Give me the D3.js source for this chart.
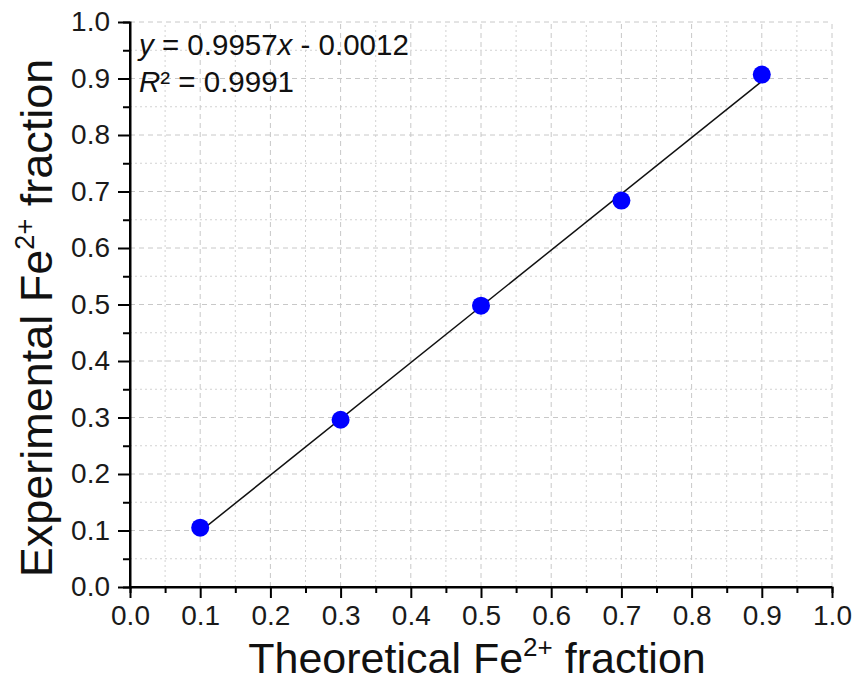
<!DOCTYPE html>
<html><head><meta charset="utf-8">
<script src="https://cdn.jsdelivr.net/npm/d3@7"></script>
<style>body{margin:0;background:#fff;} text{font-family:"Liberation Sans",Arial,sans-serif;}</style>
</head><body>
<svg id="c" width="857" height="684"></svg>
<script>
const theoretical = [0.1, 0.3, 0.5, 0.7, 0.9];
const experimental = [0.105, 0.296, 0.498, 0.684, 0.907];
const fitSlope = 0.9957;
const fitIntercept = -0.0012;
const fitRange = [0.1, 0.9];
const tickValues = [0, 0.1, 0.2, 0.3, 0.4, 0.5, 0.6, 0.7, 0.8, 0.9, 1.0];
const minorValues = [0.05, 0.15, 0.25, 0.35, 0.45, 0.55, 0.65, 0.75, 0.85, 0.95];

const svg = d3.select("#c");
const m = {l:130, r:25, t:22, b:97};
const W = 857, H = 684;
const x = d3.scaleLinear().domain([0,1]).range([m.l, W - m.r]);
const y = d3.scaleLinear().domain([0,1]).range([H - m.b, m.t]);

const g = svg.append("g");
// minor grid (dotted)
minorValues.forEach(v=>{
  g.append("line").attr("x1",x(v)).attr("x2",x(v)).attr("y1",y(0)).attr("y2",y(1))
   .attr("stroke","#d2d2d2").attr("stroke-width",1).attr("stroke-dasharray","2,3");
  g.append("line").attr("x1",x(0)).attr("x2",x(1)).attr("y1",y(v)).attr("y2",y(v))
   .attr("stroke","#d2d2d2").attr("stroke-width",1).attr("stroke-dasharray","2,3");
});
// major grid (dashed)
tickValues.slice(1).forEach(v=>{
  g.append("line").attr("x1",x(v)).attr("x2",x(v)).attr("y1",y(0)).attr("y2",y(1))
   .attr("stroke","#c8c8c8").attr("stroke-width",1).attr("stroke-dasharray","5,4");
  g.append("line").attr("x1",x(0)).attr("x2",x(1)).attr("y1",y(v)).attr("y2",y(v))
   .attr("stroke","#c8c8c8").attr("stroke-width",1).attr("stroke-dasharray","5,4");
});

// axes
const fmt = d3.format(".1f");
const xAxis = d3.axisBottom(x).tickValues(tickValues).tickFormat(fmt).tickSize(11).tickPadding(7);
const yAxis = d3.axisLeft(y).tickValues(tickValues).tickFormat(fmt).tickSize(12).tickPadding(8);
const xMinor = d3.axisBottom(x).tickValues(minorValues).tickFormat("").tickSize(6);
const yMinor = d3.axisLeft(y).tickValues(minorValues).tickFormat("").tickSize(7);

function styleAxis(sel){
  sel.attr("font-size",28).attr("font-family","'Liberation Sans',Arial,sans-serif");
  sel.select(".domain").attr("stroke","#000").attr("stroke-width",2);
  sel.selectAll(".tick line").attr("stroke","#000").attr("stroke-width",2);
  sel.selectAll("text").attr("font-size",28).attr("fill","#1a1a1a");
}
svg.append("g").attr("transform",`translate(0,${y(0)})`).call(xMinor).call(styleAxis);
svg.append("g").attr("transform",`translate(${x(0)},0)`).call(yMinor).call(styleAxis);
const gx = svg.append("g").attr("transform",`translate(0,${y(0)})`).call(xAxis).call(styleAxis);
gx.select(".domain").attr("d",`M${x(0)},0H${x(1)}`);
const gy = svg.append("g").attr("transform",`translate(${x(0)},0)`).call(yAxis).call(styleAxis);
gy.select(".domain").attr("d",`M0,${y(0)}V${y(1)}`);

// fit line
svg.append("line")
  .attr("x1",x(fitRange[0])).attr("y1",y(fitSlope*fitRange[0]+fitIntercept))
  .attr("x2",x(fitRange[1])).attr("y2",y(fitSlope*fitRange[1]+fitIntercept))
  .attr("stroke","#111").attr("stroke-width",1.5);

// points
svg.selectAll("circle.pt").data(theoretical).enter().append("circle")
  .attr("cx",d=>x(d)).attr("cy",(d,i)=>y(experimental[i])).attr("r",9)
  .attr("fill","#0000ff");

// equation
const eq = svg.append("text").attr("x",139).attr("y",55).attr("font-size",29.5).attr("fill","#111");
eq.append("tspan").attr("font-style","italic").text("y");
eq.append("tspan").text(" = 0.9957");
eq.append("tspan").attr("font-style","italic").text("x");
eq.append("tspan").text(" - 0.0012");
const r2 = svg.append("text").attr("x",139).attr("y",92).attr("font-size",29.5).attr("fill","#111");
r2.append("tspan").attr("font-style","italic").text("R");
r2.append("tspan").text("² = 0.9991");

// axis titles
const xt = svg.append("text").attr("x",477).attr("y",673).attr("text-anchor","middle")
  .attr("font-size",43).attr("fill","#111");
xt.append("tspan").text("Theoretical Fe");
xt.append("tspan").attr("font-size",26).attr("dy",-17).text("2+");
xt.append("tspan").attr("dy",17).text(" fraction");

const yt = svg.append("text").attr("transform",`translate(52,318) rotate(-90)`)
  .attr("text-anchor","middle").attr("font-size",45).attr("fill","#111");
yt.append("tspan").text("Experimental Fe");
yt.append("tspan").attr("font-size",27).attr("dy",-18).text("2+");
yt.append("tspan").attr("dy",18).text(" fraction");
</script>
</body></html>
